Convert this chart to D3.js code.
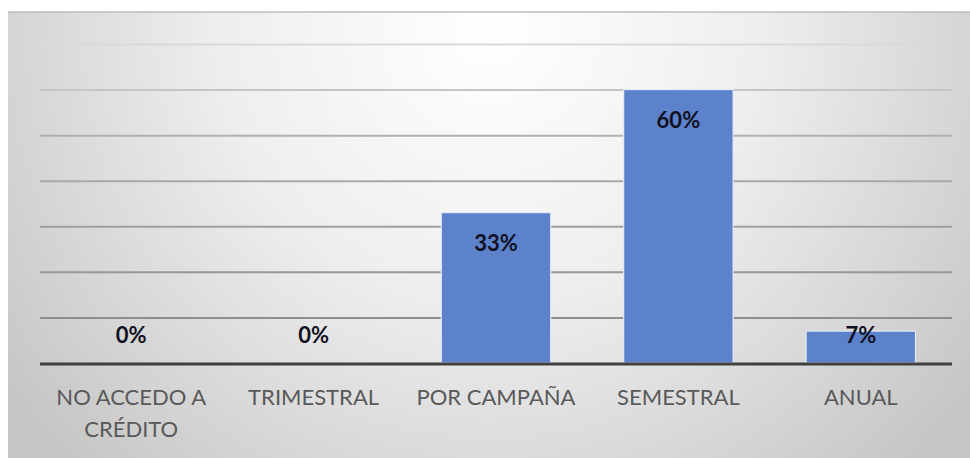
<!DOCTYPE html>
<html>
<head>
<meta charset="utf-8">
<script src="https://cdn.jsdelivr.net/npm/d3@7/dist/d3.min.js"></script>
<style>
  html, body { margin: 0; padding: 0; background: #ffffff; }
  svg { display: block; }
</style>
</head>
<body>
<svg id="chart" width="970" height="458"></svg>
<script>
// Frecuencia de acceso a crédito
const categories = ["NO ACCEDO A CRÉDITO", "TRIMESTRAL", "POR CAMPAÑA", "SEMESTRAL", "ANUAL"];
const values = [0, 0, 0.33, 0.60, 0.07];
const gridTicks = [0.1, 0.2, 0.3, 0.4, 0.5, 0.6, 0.7];

const W = 970, H = 458;
const frame = { x: 8, y: 12 };
const plot = { left: 40, right: 952, top: 44, bottom: 363 };

const svg = d3.select("#chart");
const defs = svg.append("defs");

// soft radial fill for the chart area
const bg = defs.append("radialGradient")
  .attr("id", "bgFill").attr("gradientUnits", "userSpaceOnUse")
  .attr("cx", 490).attr("cy", 30).attr("r", 600);
bg.append("stop").attr("offset", 0).attr("stop-color", "#ffffff");
bg.append("stop").attr("offset", 0.45).attr("stop-color", "#eeeeee");
bg.append("stop").attr("offset", 1).attr("stop-color", "#c6c6c6");

svg.append("rect")
  .attr("x", frame.x).attr("y", frame.y)
  .attr("width", W - frame.x).attr("height", H - frame.y)
  .attr("fill", "url(#bgFill)");
svg.append("line")
  .attr("x1", frame.x).attr("x2", W).attr("y1", frame.y).attr("y2", frame.y)
  .attr("stroke", "#bdbdbd").attr("stroke-width", 1.5);

const x = d3.scaleBand().domain(categories)
  .range([plot.left, plot.right]).paddingInner(0.4).paddingOuter(0.2);
const y = d3.scaleLinear().domain([0, 0.7]).range([plot.bottom, plot.top]);

// horizontal gridlines, lighter toward the top
const gridColor = d3.scaleLinear().domain([0.7, 0.5, 0.1])
  .range(["#d9d9d9", "#b0b0b0", "#8e8e8e"]);
const yAxis = d3.axisLeft(y).tickValues(gridTicks)
  .tickSize(-(plot.right - plot.left)).tickFormat("");
const gy = svg.append("g").attr("transform", `translate(${plot.left},0)`).call(yAxis);
gy.select(".domain").remove();
gy.selectAll(".tick line")
  .attr("stroke", d => gridColor(d)).attr("stroke-width", 2);

// bars
svg.append("g").selectAll("rect")
  .data(values.map((v, i) => ({ c: categories[i], v })))
  .join("rect")
  .attr("x", d => x(d.c))
  .attr("width", x.bandwidth())
  .attr("y", d => y(d.v))
  .attr("height", d => y(0) - y(d.v))
  .attr("fill", "#5b82cb")
  .attr("stroke", "#e3ebf8")
  .attr("stroke-width", d => d.v > 0 ? 1.2 : 0);

// category axis
const xAxis = d3.axisBottom(x).tickSize(0).tickPadding(0);
const gx = svg.append("g").attr("transform", `translate(0,${plot.bottom})`).call(xAxis);
gx.select(".domain").remove();
svg.append("line")
  .attr("x1", plot.left).attr("x2", plot.right)
  .attr("y1", plot.bottom + 1).attr("y2", plot.bottom + 1)
  .attr("stroke", "#3f3f3f").attr("stroke-width", 3);

gx.selectAll(".tick text")
  .attr("fill", "#595959")
  .style("font-family", "Lato, 'Open Sans', sans-serif")
  .style("font-size", "22px")
  .attr("dy", null).attr("y", 42)
  .each(function(d) {
    // wrap long names onto several lines within the band
    const t = d3.select(this);
    const words = d.split(" ");
    t.text(null);
    let line = [], lineNo = 0;
    let span = t.append("tspan").attr("x", 0).attr("y", 42);
    for (const w of words) {
      line.push(w);
      span.text(line.join(" "));
      if (span.node().getComputedTextLength() > x.step() * 0.88 && line.length > 1) {
        line.pop();
        span.text(line.join(" "));
        line = [w];
        lineNo++;
        span = t.append("tspan").attr("x", 0).attr("y", 42 + lineNo * 32).text(w);
      }
    }
  });

// value labels
svg.append("g").selectAll("text")
  .data(values.map((v, i) => ({ c: categories[i], v })))
  .join("text")
  .attr("x", d => x(d.c) + x.bandwidth() / 2)
  .attr("y", d => Math.min(y(d.v) + 38, y(0) - 20))
  .attr("text-anchor", "middle")
  .attr("fill", "#111122")
  .style("font-family", "Lato, 'Open Sans', sans-serif")
  .style("font-weight", "bold")
  .style("font-size", "22px")
  .text(d => d3.format(".0%")(d.v));
</script>
</body>
</html>
